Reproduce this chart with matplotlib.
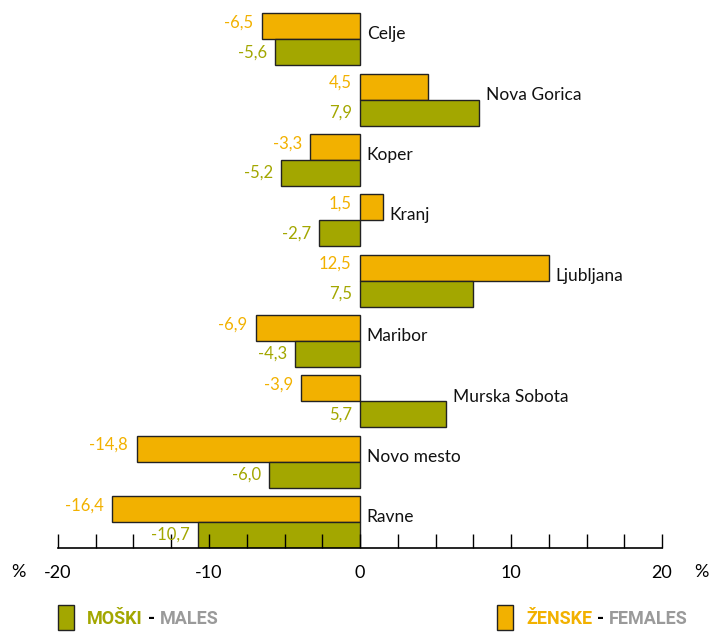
import matplotlib.pyplot as plt
import numpy as np

cities = ['Celje', 'Nova Gorica', 'Koper', 'Kranj', 'Ljubljana', 'Maribor',
          'Murska Sobota', 'Novo mesto', 'Ravne']
females = [-6.5, 4.5, -3.3, 1.5, 12.5, -6.9, -3.9, -14.8, -16.4]
males = [-5.6, 7.9, -5.2, -2.7, 7.5, -4.3, 5.7, -6.0, -10.7]

ORANGE = '#F2B100'
OLIVE = '#A3A700'
GREY = '#9A9A9A'

plt.rcParams['font.family'] = ['Lato', 'DejaVu Sans']

fig = plt.figure(figsize=(7.09, 6.34), dpi=100)
ax = fig.add_axes([58 / 709, 86 / 634, 604 / 709, 545 / 634])

y = np.arange(len(cities))
h = 0.43
ax.barh(y - h / 2, females, height=h, color=ORANGE, edgecolor='#222222', linewidth=1)
ax.barh(y + h / 2, males, height=h, color=OLIVE, edgecolor='#222222', linewidth=1)

fmt = lambda v: ('%.1f' % v).replace('.', ',')
for i in range(len(cities)):
    f, m = females[i], males[i]
    ax.text(min(0, f) - 0.55, i - h / 2 - 0.06, fmt(f), color=ORANGE, ha='right', va='center', fontsize=12)
    ax.text(min(0, m) - 0.55, i + h / 2, fmt(m), color=OLIVE, ha='right', va='center', fontsize=12)
    ax.text(max(0, f, m) + 0.45, i - 0.08, cities[i], color='#111111', ha='left', va='center', fontsize=12.5)

ax.set_xlim(-20, 20)
ax.set_ylim(8.43, -0.6)
for s in ['top', 'right', 'left']:
    ax.spines[s].set_visible(False)
ax.spines['bottom'].set_linewidth(1.2)
ax.set_yticks([])
ticks = np.arange(-20, 20.1, 2.5)
ax.set_xticks(ticks)
ax.set_xticklabels(['%d' % t if t % 10 == 0 else '' for t in ticks])
ax.tick_params(axis='x', direction='in', length=10, width=1, labelsize=13, pad=12)

ax.text(-22.6, 8.43 + 0.27, '%', fontsize=13, ha='center', va='top')
ax.text(22.6, 8.43 + 0.27, '%', fontsize=13, ha='center', va='top')

# legend
def legend_item(x0, color, name, eng):
    fig.patches.append(plt.Rectangle((x0 / 709, 4 / 634), 16 / 709, 25 / 634,
                                     transform=fig.transFigure, facecolor=color,
                                     edgecolor='#222222', linewidth=1))
    t1 = fig.text((x0 + 29) / 709, 15 / 634, name, color=color, fontsize=13,
                  fontweight='bold', va='center', family='Roboto')
    fig.canvas.draw()
    bb = t1.get_window_extent()
    t2 = fig.text(bb.x1 / 709 + 5 / 709, 15 / 634, '-', color='black', fontsize=13,
                  fontweight='bold', va='center', family='Roboto')
    bb2 = t2.get_window_extent()
    fig.text(bb2.x1 / 709 + 5 / 709, 15 / 634, eng, color=GREY, fontsize=13,
             fontweight='bold', va='center', family='Roboto')

legend_item(58, OLIVE, 'MOŠKI', 'MALES')
legend_item(497, ORANGE, 'ŽENSKE', 'FEMALES')

fig.savefig('out.png', dpi=100)
